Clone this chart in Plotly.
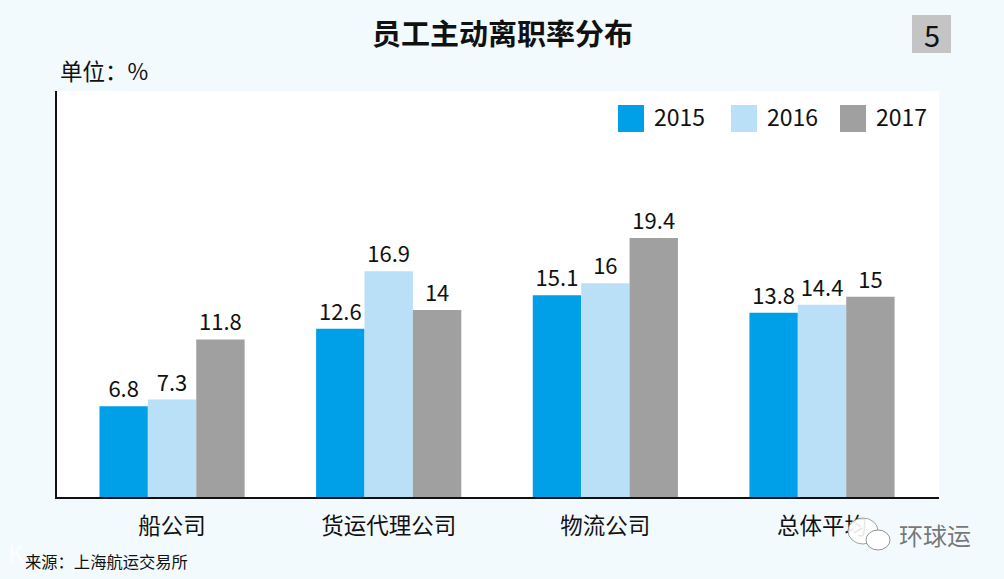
import plotly.graph_objects as go

categories = ["船公司", "货运代理公司", "物流公司", "总体平均"]
years = ["2015", "2016", "2017"]
v2015 = [6.8, 12.6, 15.1, 13.8]
v2016 = [7.3, 16.9, 16, 14.4]
v2017 = [11.8, 14, 19.4, 15]
colors = ["#00A0E9", "#B9E0F7", "#A0A0A0"]
FONT = "Noto Sans CJK SC"
BG = "#F3FAFE"
L, R, T, B = 57, 939, 91, 497


def px(x):
    return (x - L) / (R - L)


def py(y):
    return (B - y) / (B - T)


fig = go.Figure()
for y, vals, c in zip(years, [v2015, v2016, v2017], colors):
    fig.add_trace(go.Bar(
        x=categories, y=vals, name=y, marker=dict(color=c, line=dict(width=0)),
        text=[str(v) for v in vals], textposition="outside", cliponaxis=False,
        textfont=dict(family=FONT, size=22, color="#111111"), showlegend=False,
    ))

shapes = []
annotations = []


def label(text, x, y, size, color="#111111", anchor="left"):
    annotations.append(dict(text=text, x=px(x), y=py(y), xref="paper", yref="paper",
                            xanchor=anchor, yanchor="middle", showarrow=False,
                            font=dict(family=FONT, size=size, color=color)))


def box(x0, y0, x1, y1, fill, line=None, kind="rect"):
    shapes.append(dict(type=kind, xref="paper", yref="paper", x0=px(x0), x1=px(x1),
                       y0=py(y0), y1=py(y1), fillcolor=fill,
                       line=dict(width=0.8 if line else 0, color=line or fill)))


# title, unit, page badge
label("<b>员工主动离职率分布</b>", 502, 32, 29, anchor="center")
label("单位：%", 58, 70, 22.5)
box(912, 15, 951, 53, "#C4C4C4")
label("5", 931.5, 34, 29, anchor="center")

# legend
for (x0, yr, tx, c) in zip([618, 731, 840], years, [652, 765, 874], colors):
    box(x0, 105, x0 + 26, 132, c)
    label(yr, tx, 116, 23)

# source and watermarks
label("来源：上海航运交易所", 23, 561, 16.3)
label("K", 6, 552, 24, color="rgba(255,255,255,0.75)")
label("环球运", 897, 534, 24, color="rgba(95,95,95,0.85)")
box(848, 518, 878, 544, "rgba(255,255,255,0.9)", "#8A8A8A", "circle")
box(866, 530, 890, 550, "#FFFFFF", "#777777", "circle")

fig.update_layout(
    width=1004, height=579, autosize=False,
    margin=dict(l=L, r=1004 - R, t=T, b=579 - B),
    paper_bgcolor=BG, plot_bgcolor="#FFFFFF",
    barmode="group", bargap=0.33, bargroupgap=0,
    shapes=shapes, annotations=annotations,
    xaxis=dict(type="category", categoryorder="array", categoryarray=categories,
               range=[-0.531, 3.54], showgrid=False, ticks="", showline=True,
               linecolor="#111111", linewidth=2, ticklabelstandoff=8,
               tickfont=dict(family=FONT, size=22.5, color="#111111")),
    yaxis=dict(range=[0, 30.4], showgrid=False, zeroline=False, showticklabels=False,
               ticks="", showline=True, linecolor="#111111", linewidth=2),
)
fig.write_html("out.html", config={"displayModeBar": False},
               post_script="document.body.style.margin='0';document.body.style.background='%s';" % BG)
